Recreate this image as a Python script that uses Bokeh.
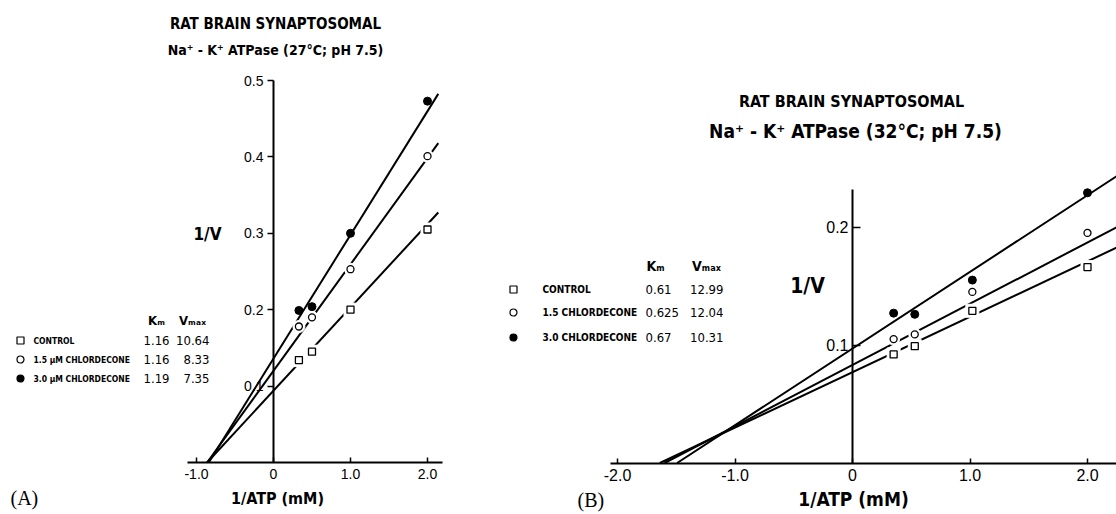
from bokeh.plotting import figure
from bokeh.models import Range1d, FixedTicker, Label
from bokeh.layouts import row
from bokeh.core.properties import value
from bokeh.embed import file_html
from bokeh.resources import INLINE

# ---------------- data ----------------
inv_atp_a = [0.33, 0.5, 1.0, 2.0]
a_control = [0.134, 0.145, 0.200, 0.305]
a_cd15 = [0.178, 0.190, 0.253, 0.401]
a_cd30 = [0.199, 0.204, 0.300, 0.473]
a_km = [1.16, 1.16, 1.19]
a_vmax = [10.64, 8.33, 7.35]
a_names = ["CONTROL", "1.5 \u00b5M CHLORDECONE", "3.0 \u00b5M CHLORDECONE"]

inv_atp_b = [0.35, 0.53, 1.02, 2.0]
b_control = [0.092, 0.099, 0.129, 0.166]
b_cd15 = [0.105, 0.109, 0.145, 0.195]
b_cd30 = [0.127, 0.126, 0.155, 0.229]
b_km = [0.61, 0.625, 0.67]
b_vmax = [12.99, 12.04, 10.31]
b_names = ["CONTROL", "1.5 CHLORDECONE", "3.0 CHLORDECONE"]

a_xticks = [-1.0, 0.0, 1.0, 2.0]
a_xlabels = ["-1.0", "0", "1.0", "2.0"]
a_yticks = [0.1, 0.2, 0.3, 0.4, 0.5]
a_ylabels = ["0.1", "0.2", "0.3", "0.4", "0.5"]
b_xticks = [-2.0, -1.0, 0.0, 1.0, 2.0]
b_xlabels = ["-2.0", "-1.0", "0", "1.0", "2.0"]
b_yticks = [0.1, 0.2]
b_ylabels = ["0.1", "0.2"]

NARROW = "'DejaVu Sans Condensed', Roboto, sans-serif"
PLAIN = "Liberation Sans"
SERIF = "Liberation Serif"
TOP, BOTTOM = 0, 514


def make_panel(fx0, fx1, ox, kx, oy, ky, xb, yb, xt, xl, yt, yl, tick_side_in,
               tick_font):
    sxd = lambda sx: (sx - ox) / kx
    syd = lambda sy: (oy - sy) / ky
    p = figure(width=fx1 - fx0, height=BOTTOM - TOP,
               x_range=Range1d(sxd(fx0), sxd(fx1)),
               y_range=Range1d(syd(BOTTOM), syd(TOP)),
               toolbar_location=None, output_backend="svg",
               min_border=0, min_border_left=0, min_border_right=0,
               min_border_top=0, min_border_bottom=0)
    p.outline_line_color = None
    p.grid.visible = False
    p.background_fill_color = "white"
    p.border_fill_color = "white"
    for ax in (p.xaxis, p.yaxis):
        ax.fixed_location = 0
        ax.axis_line_width = 2
        ax.axis_line_color = "black"
        ax.major_tick_line_width = 1.5
        ax.minor_tick_line_color = None
        ax.major_label_text_font = PLAIN
        ax.major_label_text_font_size = tick_font
        ax.major_label_text_color = "black"
    p.xaxis.bounds = xb
    p.yaxis.bounds = yb
    p.xaxis.ticker = FixedTicker(ticks=xt)
    p.xaxis.major_label_overrides = {t: s for t, s in zip(xt, xl)}
    p.yaxis.ticker = FixedTicker(ticks=yt)
    p.yaxis.major_label_overrides = {t: s for t, s in zip(yt, yl)}
    p.xaxis.major_tick_in = 5
    p.xaxis.major_tick_out = 0
    p.xaxis.major_label_standoff = 6
    if tick_side_in:
        p.yaxis.major_tick_in = 8
        p.yaxis.major_tick_out = 0
        p.yaxis.major_label_standoff = 4
    else:
        p.yaxis.major_tick_in = 0
        p.yaxis.major_tick_out = 6
        p.yaxis.major_label_standoff = 4
    return p, sxd, syd


def add_text(p, x, y, txt, size, font=NARROW, style="bold", align="center"):
    p.add_layout(Label(x=x, y=y, text=txt, text_font=font,
                       text_font_size=size, text_font_style=style,
                       text_align=align, text_baseline="middle",
                       text_color="black"))


def draw_series(p, xs, series, kms, vmaxs, xmax):
    # fitted Lineweaver-Burk lines from Km and Vmax
    for km, vm in zip(kms, vmaxs):
        x0 = -1.0 / km
        lx = [x0, xmax]
        ly = [(1 + km * v) / vm for v in lx]
        p.line(lx, ly, line_color="black", line_width=2)
    ctrl, c15, c30 = series
    p.scatter(xs, ctrl, marker="square", size=13, color="white")
    p.scatter(xs, c15, marker="circle", size=12, color="white")
    p.scatter(xs, ctrl, marker="square", size=7, fill_color="white",
              line_color="black", line_width=1.3)
    p.scatter(xs, c15, marker="circle", size=7, fill_color="white",
              line_color="black", line_width=1.3)
    p.scatter(xs, c30, marker="circle", size=8, fill_color="black",
              line_color="black")


# ---------------- panel A ----------------
pA, axd, ayd = make_panel(0, 480, 273, 77.0, 462, 764.0,
                          (-1.12, 2.2), (0, 0.5),
                          a_xticks, a_xlabels, a_yticks, a_ylabels, False,
                          "14px")
draw_series(pA, inv_atp_a, (a_control, a_cd15, a_cd30), a_km, a_vmax, 2.14)
add_text(pA, axd(275), ayd(23), "RAT BRAIN SYNAPTOSOMAL", "15px")
add_text(pA, axd(275), ayd(49), "Na\u207a - K\u207a ATPase (27\u00b0C; pH 7.5)", "14px")
add_text(pA, axd(207), ayd(233), "1/V", "17px")
add_text(pA, axd(277), ayd(498), "1/ATP (mM)", "16px")
add_text(pA, axd(10), ayd(497), "(A)", "20px", font=SERIF, style="normal", align="left")
# legend table A
rows_a = [340, 359, 378]
mk = ["square", "circle", "circle"]
fills = ["white", "white", "black"]
for i in range(3):
    pA.scatter([axd(20)], [ayd(rows_a[i])], marker=mk[i], size=7,
               fill_color=fills[i], line_color="black", line_width=1.2)
    add_text(pA, axd(33), ayd(rows_a[i]), a_names[i], "8.5px", align="left")
    add_text(pA, axd(156), ayd(rows_a[i]), f"{a_km[i]:g}", "13px", style="normal")
    add_text(pA, axd(209), ayd(rows_a[i]), f"{a_vmax[i]:g}", "13px", style="normal", align="right")
add_text(pA, axd(156), ayd(320), "K\u2098", "13px")
add_text(pA, axd(192), ayd(320), "V\u2098\u2090\u2093", "13px")

# ---------------- panel B ----------------
pB, bxd, byd = make_panel(480, 1116, 852, 117.5, 462.5, 1180.0,
                          (-2.06, 2.4), (0, 0.232),
                          b_xticks, b_xlabels, b_yticks, b_ylabels, True,
                          "16px")
draw_series(pB, inv_atp_b, (b_control, b_cd15, b_cd30), b_km, b_vmax, 2.4)
add_text(pB, bxd(851), byd(101), "RAT BRAIN SYNAPTOSOMAL", "16px")
add_text(pB, bxd(855), byd(130), "Na\u207a - K\u207a ATPase (32\u00b0C; pH 7.5)", "19px")
add_text(pB, bxd(807), byd(285), "1/V", "21px")
add_text(pB, bxd(853), byd(498), "1/ATP (mM)", "19px")
add_text(pB, bxd(577), byd(499), "(B)", "20px", font=SERIF, style="normal", align="left")
rows_b = [289, 312, 337]
for i in range(3):
    pB.scatter([bxd(513)], [byd(rows_b[i])], marker=mk[i], size=7,
               fill_color=fills[i], line_color="black", line_width=1.2)
    add_text(pB, bxd(542), byd(rows_b[i]), b_names[i], "10px", align="left")
    add_text(pB, bxd(645), byd(rows_b[i]), f"{b_km[i]:g}", "13px", style="normal", align="left")
    add_text(pB, bxd(723), byd(rows_b[i]), f"{b_vmax[i]:g}", "13px", style="normal", align="right")
add_text(pB, bxd(655), byd(265), "K\u2098", "14px")
add_text(pB, bxd(706), byd(265), "V\u2098\u2090\u2093", "14px")

layout = row(pA, pB)
open("out.html", "w").write(file_html(layout, INLINE))
